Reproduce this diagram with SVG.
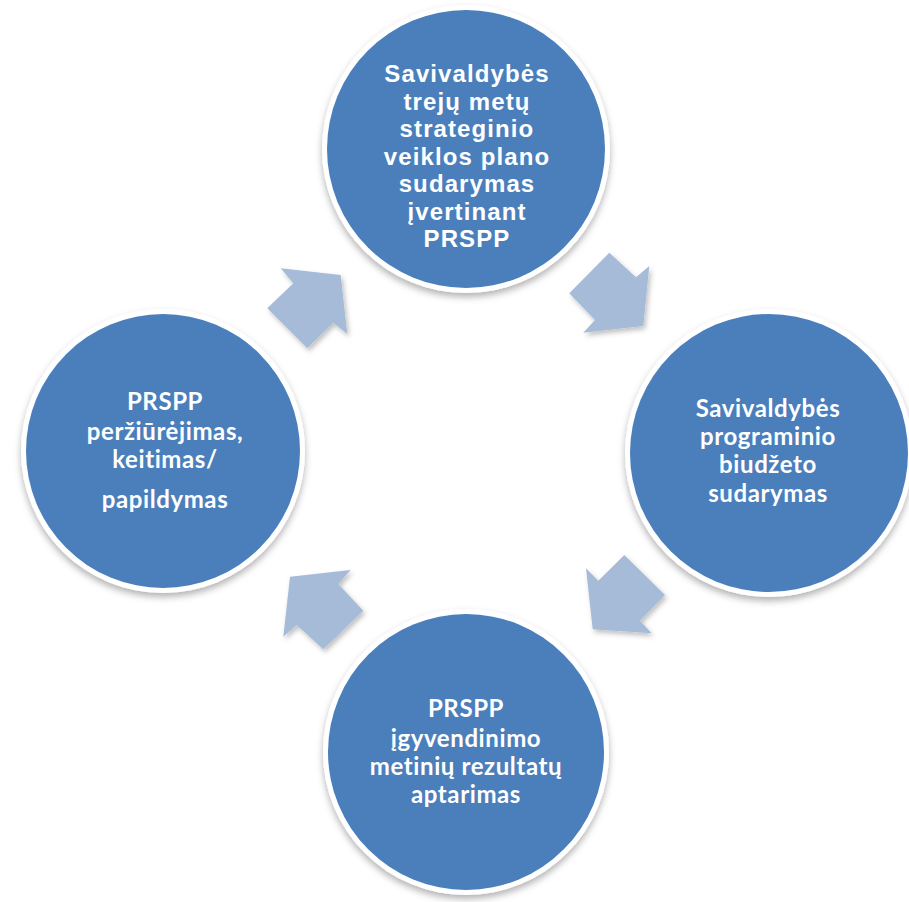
<svg xmlns="http://www.w3.org/2000/svg" width="909" height="902" viewBox="0 0 909 902">
  <defs>
    <filter id="sh" x="-20%" y="-20%" width="140%" height="150%">
      <feDropShadow dx="0" dy="4" stdDeviation="3.5" flood-color="#000" flood-opacity="0.3"/>
    </filter>
    <filter id="ash" x="-20%" y="-20%" width="150%" height="150%">
      <feDropShadow dx="2" dy="3" stdDeviation="2.5" flood-color="#000" flood-opacity="0.25"/>
    </filter>
  </defs>
  <style>
    .ring { fill: #ffffff; filter: url(#sh); }
    .disc { fill: #4A7FBC; }
    .arrow { fill: #A6BBD8; filter: url(#ash); }
    .t1 { font-family: "Liberation Sans", Arial, sans-serif; font-weight: bold; font-size: 24px; letter-spacing: 1.1px; fill: #ffffff; text-anchor: middle; }
    .t2 { font-family: Lato, "Open Sans", sans-serif; font-weight: bold; font-size: 24px; letter-spacing: 0.6px; fill: #ffffff; text-anchor: middle; }
  </style>
  <rect width="909" height="902" fill="#ffffff"/>

  <g id="connectors">
    <polygon class="arrow" points="609.3,252.7 636,277.3 649.3,266 643.3,326 583.3,332.7 595,320 569.3,293.3"/>
    <polygon class="arrow" points="624.3,555 665,595 640,620.7 651.7,633.3 592.7,629.3 586,568.3 598.3,580.7"/>
    <polygon class="arrow" points="350.7,570 338.3,584 363.3,610.7 323.3,649.3 296.7,625 283.3,636.7 290,576.7"/>
    <polygon class="arrow" points="280.7,268.3 293.3,283.3 267.3,308.3 307.3,348.3 333.3,322.7 347.3,334 340.7,275"/>
  </g>

  <g id="node-top">
    <circle class="ring" cx="466" cy="149" r="144"/>
    <circle class="disc" cx="466" cy="149" r="139"/>
    <text class="t1" x="467" y="82">Savivaldybės</text>
    <text class="t1" x="467" y="110">trejų metų</text>
    <text class="t1" x="467" y="137">strateginio</text>
    <text class="t1" x="467" y="165">veiklos plano</text>
    <text class="t1" x="467" y="192">sudarymas</text>
    <text class="t1" x="467" y="220">įvertinant</text>
    <text class="t1" x="467" y="247">PRSPP</text>
  </g>

  <g id="node-right">
    <circle class="ring" cx="769" cy="453" r="144"/>
    <circle class="disc" cx="769" cy="453" r="139"/>
    <text class="t2" x="768" y="417">Savivaldybės</text>
    <text class="t2" x="768" y="445">programinio</text>
    <text class="t2" x="768" y="473">biudžeto</text>
    <text class="t2" x="768" y="502">sudarymas</text>
  </g>

  <g id="node-bottom">
    <circle class="ring" cx="466" cy="752" r="143"/>
    <circle class="disc" cx="466" cy="752" r="138"/>
    <text class="t2" x="466" y="717">PRSPP</text>
    <text class="t2" x="466" y="747">įgyvendinimo</text>
    <text class="t2" x="466" y="775">metinių rezultatų</text>
    <text class="t2" x="466" y="803">aptarimas</text>
  </g>

  <g id="node-left">
    <circle class="ring" cx="163" cy="451" r="142"/>
    <circle class="disc" cx="163" cy="451" r="137"/>
    <text class="t2" x="165" y="410">PRSPP</text>
    <text class="t2" x="165" y="440">peržiūrėjimas,</text>
    <text class="t2" x="165" y="468">keitimas/</text>
    <text class="t2" x="165" y="508">papildymas</text>
  </g>
</svg>
